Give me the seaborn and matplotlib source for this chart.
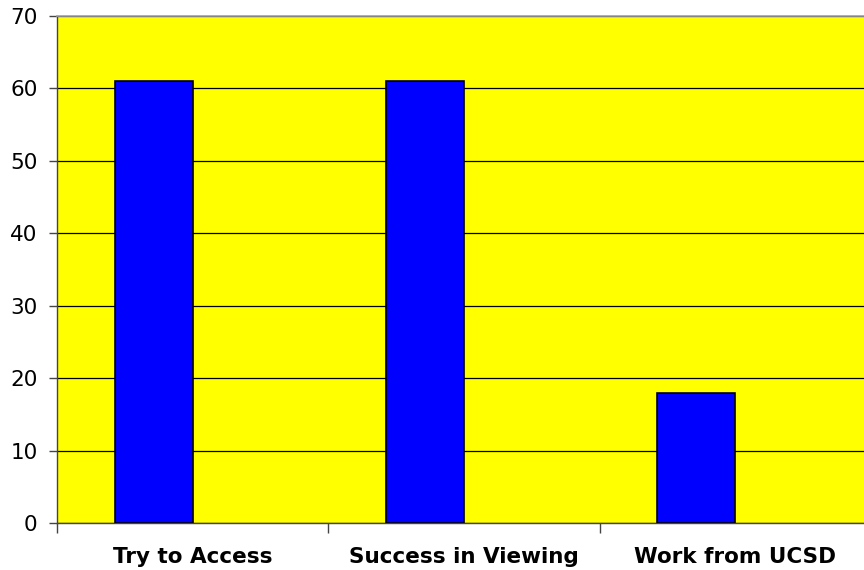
import numpy as np
import pandas as pd
import matplotlib
matplotlib.use("Agg")
import matplotlib.pyplot as plt
import seaborn as sns
from matplotlib.ticker import FixedLocator, NullFormatter

categories = ["Try to Access", "Success in Viewing", "Work from UCSD"]
counts = [61, 61, 18]
series_names = ["Series 1", "Series 2"]
y_ticks = [0, 10, 20, 30, 40, 50, 60, 70]

df = pd.DataFrame({
    "category": categories,
    "count": counts,
    "series": [series_names[0]] * len(categories),
})

sns.set_theme(style="white")
plt.rcParams["font.family"] = ["DejaVu Sans"]

fig = plt.figure(figsize=(8.64, 5.70), dpi=100)
ax = fig.add_axes([57 / 864, 1 - 523 / 570, 814 / 864, 507 / 570])
ax.set_facecolor("#FFFF00")

sns.barplot(data=df, x="category", y="count", hue="series",
            hue_order=series_names, order=categories,
            palette={series_names[0]: "#0000FF", series_names[1]: "#FF00FF"},
            width=0.575, dodge=True, edgecolor="black", linewidth=1.2,
            saturation=1, legend=False, ax=ax, zorder=3)

ax.set_xlim(-0.5, len(categories) - 0.5)
ax.set_ylim(0, 70)
ax.set_yticks(y_ticks)
ax.yaxis.grid(True, color="black", linewidth=0.9, zorder=0)
ax.set_axisbelow(True)

# category labels at centres, tick marks at category boundaries
ax.set_xticks(range(len(categories)))
ax.set_xticklabels(categories, fontweight="bold", fontsize=15.5)
ax.tick_params(axis="x", which="major", length=0, pad=17, colors="black")
ax.xaxis.set_minor_locator(FixedLocator(np.arange(-0.5, len(categories), 1.0)))
ax.xaxis.set_minor_formatter(NullFormatter())
ax.tick_params(axis="x", which="minor", bottom=True, length=7, width=1, color="#444444")
ax.tick_params(axis="y", left=True, length=6, width=1, color="#444444",
               labelsize=15.5, pad=8, labelcolor="black")

ax.set_xlabel("")
ax.set_ylabel("")
for side in ["left", "bottom"]:
    ax.spines[side].set_color("#444444")
    ax.spines[side].set_linewidth(1.0)
ax.spines["top"].set_color("#A0A0A0")
ax.spines["top"].set_linewidth(1.2)
ax.spines["right"].set_visible(False)

fig.savefig("out.png", dpi=100, facecolor="white")
